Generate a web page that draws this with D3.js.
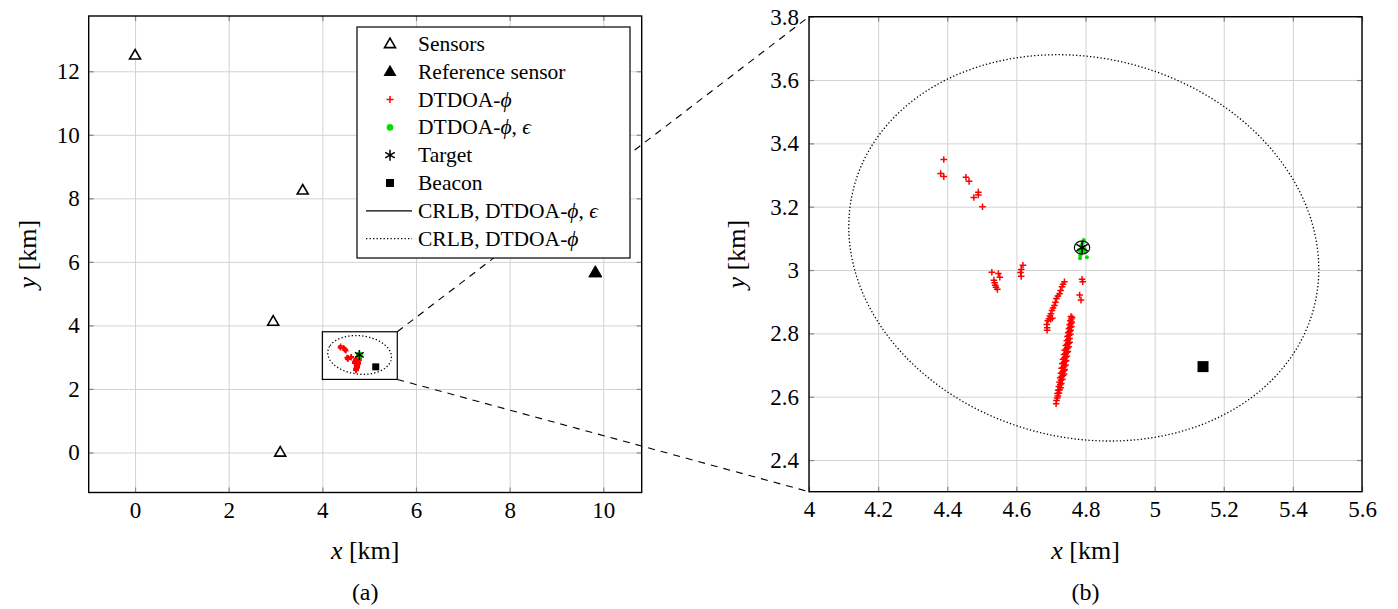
<!DOCTYPE html>
<html>
<head>
<meta charset="utf-8">
<script src="https://cdn.jsdelivr.net/npm/d3@7"></script>
<style>
  body { margin: 0; background: #fff; }
  svg text { font-family: "Liberation Serif", "Times New Roman", "DejaVu Serif", serif; fill: #000; }
</style>
</head>
<body>
<script>
var W = 1398, H = 609;

// positions in km
var sensors = [[0, 12.5], [3.58, 8.25], [2.95, 4.12], [3.1, 0]];
var refSensor = [[9.83, 5.66]];
var target = [[4.79, 3.071]];
var beacon = [[5.14, 2.695]];

var dtdoaPhi = [
	// upper left group
	[4.390,3.349],[4.381,3.305],[4.390,3.295],[4.454,3.293],[4.463,3.280],[4.477,3.229],
	[4.490,3.246],[4.490,3.237],[4.502,3.200],
	// around 4.54
	[4.529,2.993],[4.548,2.989],[4.552,2.977],[4.535,2.968],[4.537,2.960],[4.539,2.952],
	[4.541,2.946],[4.545,2.939],
	// around 4.62
	[4.619,3.015],[4.614,3.002],[4.612,2.992],[4.614,2.980],
	// below target
	[4.790,2.971],[4.792,2.963],[4.783,2.921],[4.787,2.905],
	// diagonal streak
	[4.739,2.963],[4.735,2.955],[4.732,2.947],[4.728,2.935],[4.725,2.925],[4.720,2.918],
	[4.716,2.910],[4.713,2.898],[4.710,2.888],[4.706,2.880],[4.703,2.872],[4.700,2.862],
	[4.697,2.855],[4.694,2.846],[4.691,2.840],[4.699,2.845],[4.704,2.848],[4.688,2.828],
	[4.689,2.818],[4.689,2.810],
	// long streak
	[4.715,2.578],[4.716,2.588],[4.718,2.596],[4.720,2.602],[4.719,2.610],[4.723,2.612],
	[4.721,2.620],[4.725,2.622],[4.728,2.628],[4.723,2.632],[4.727,2.638],[4.730,2.642],
	[4.725,2.646],[4.729,2.652],[4.733,2.655],[4.727,2.660],[4.731,2.664],[4.735,2.667],
	[4.738,2.672],[4.729,2.674],[4.733,2.678],[4.737,2.682],[4.740,2.686],[4.731,2.690],
	[4.735,2.693],[4.739,2.697],[4.742,2.700],[4.733,2.704],[4.737,2.708],[4.741,2.711],
	[4.744,2.714],[4.735,2.718],[4.739,2.722],[4.743,2.725],[4.746,2.728],[4.738,2.733],
	[4.742,2.736],[4.746,2.740],[4.749,2.743],[4.740,2.747],[4.744,2.751],[4.748,2.754],
	[4.751,2.758],[4.743,2.762],[4.747,2.766],[4.751,2.769],[4.754,2.772],[4.746,2.777],
	[4.750,2.781],[4.754,2.784],[4.748,2.790],[4.752,2.794],[4.756,2.797],[4.750,2.802],
	[4.754,2.806],[4.757,2.810],[4.752,2.815],[4.756,2.819],[4.759,2.822],[4.754,2.827],
	[4.758,2.831],[4.760,2.836],[4.756,2.840],[4.759,2.845],[4.761,2.850],[4.758,2.853]
];

var dtdoaPhiEps = [
	[4.790,3.070],[4.786,3.066],[4.794,3.074],[4.788,3.079],[4.793,3.062],[4.781,3.063],
	[4.797,3.068],[4.787,3.055],[4.785,3.046],[4.784,3.037],[4.804,3.040],[4.795,3.095],
	[4.792,3.085],[4.799,3.058]
];

// CRLB ellipses: centre and covariance [sxx, sxy, syy]
var crlbPhiCenter = [4.795, 3.07];
var crlbPhiCov = [0.4624, -0.0458, 0.3721];
var crlbEpsCenter = [4.79, 3.071];
var crlbEpsCov = [0.00042, 0, 0.00048];

var xTicksA = [0, 2, 4, 6, 8, 10];
var yTicksA = [0, 2, 4, 6, 8, 10, 12];
var xTicksB = [4, 4.2, 4.4, 4.6, 4.8, 5, 5.2, 5.4, 5.6];
var yTicksB = [2.4, 2.6, 2.8, 3, 3.2, 3.4, 3.6, 3.8];

var legendLabels = [
	[['Sensors', 0]],
	[['Reference sensor', 0]],
	[['DTDOA-', 0], ['\u03D5', 1]],
	[['DTDOA-', 0], ['\u03D5', 1], [', ', 0], ['\u03F5', 1]],
	[['Target', 0]],
	[['Beacon', 0]],
	[['CRLB, DTDOA-', 0], ['\u03D5', 1], [', ', 0], ['\u03F5', 1]],
	[['CRLB, DTDOA-', 0], ['\u03D5', 1]]
];
var legendKinds = ['tri', 'trifill', 'plus', 'dot', 'star', 'square', 'solid', 'dotted'];

var serif = '"Liberation Serif", "Times New Roman", "DejaVu Serif", serif';

var svg = d3.select('body').append('svg')
	.attr('width', W).attr('height', H)
	.attr('font-family', serif);
svg.append('rect').attr('width', W).attr('height', H).attr('fill', '#fff');

function ellipsePoints(c, cov) {
	var a = cov[0], b = cov[1], d = cov[2];
	var tr = (a + d) / 2, det = a * d - b * b;
	var disc = Math.sqrt(tr * tr - det);
	var l1 = tr + disc, l2 = tr - disc;
	var th = Math.abs(b) < 1e-12 ? 0 : Math.atan2(l1 - a, b);
	var pts = [];
	for (var i = 0; i <= 240; i++) {
		var t = i / 240 * 2 * Math.PI;
		var u = Math.sqrt(l1) * Math.cos(t), v = Math.sqrt(l2) * Math.sin(t);
		pts.push([c[0] + u * Math.cos(th) - v * Math.sin(th), c[1] + u * Math.sin(th) + v * Math.cos(th)]);
	}
	return pts;
}

function triPath(s) {
	var h = s * 0.866;
	return 'M0,' + (-h * 0.62) + 'L' + (s / 2) + ',' + (h * 0.38) + 'L' + (-s / 2) + ',' + (h * 0.38) + 'Z';
}
function plusPath(r) {
	return 'M' + (-r) + ',0H' + r + 'M0,' + (-r) + 'V' + r;
}
function starPath(r) {
	var p = '';
	[90, 30, -30].forEach(function(a) {
		var dx = r * Math.cos(a * Math.PI / 180), dy = r * Math.sin(a * Math.PI / 180);
		p += 'M' + (-dx) + ',' + (-dy) + 'L' + dx + ',' + dy;
	});
	return p;
}

function drawPanel(cfg) {
	var x = d3.scaleLinear().domain(cfg.xd).range([cfg.x0, cfg.x1]);
	var y = d3.scaleLinear().domain(cfg.yd).range([cfg.y1, cfg.y0]);
	var g = svg.append('g');
	var w = cfg.x1 - cfg.x0, h = cfg.y1 - cfg.y0;

	// grid
	g.append('g').attr('transform', 'translate(0,' + cfg.y1 + ')')
		.call(d3.axisBottom(x).tickValues(cfg.xt).tickSize(-h).tickFormat(''))
		.call(function(s) { s.select('.domain').remove(); s.selectAll('line').attr('stroke', '#d2d2d2').attr('stroke-width', 1); });
	g.append('g').attr('transform', 'translate(' + cfg.x0 + ',0)')
		.call(d3.axisLeft(y).tickValues(cfg.yt).tickSize(-w).tickFormat(''))
		.call(function(s) { s.select('.domain').remove(); s.selectAll('line').attr('stroke', '#d2d2d2').attr('stroke-width', 1); });

	var line = d3.line().x(function(d) { return x(d[0]); }).y(function(d) { return y(d[1]); });

	g.append('path').datum(ellipsePoints(crlbPhiCenter, crlbPhiCov))
		.attr('d', line).attr('fill', 'none').attr('stroke', '#000')
		.attr('stroke-width', 1.3).attr('stroke-dasharray', '1.3,2.2');

	g.selectAll('.red').data(dtdoaPhi).enter().append('path')
		.attr('transform', function(d) { return 'translate(' + x(d[0]) + ',' + y(d[1]) + ')'; })
		.attr('d', plusPath(cfg.plus)).attr('stroke', '#ff0000').attr('stroke-width', 1.5);

	g.selectAll('.grn').data(dtdoaPhiEps).enter().append('circle')
		.attr('cx', function(d) { return x(d[0]); }).attr('cy', function(d) { return y(d[1]); })
		.attr('r', cfg.dot).attr('fill', '#00e000');

	g.append('path').datum(ellipsePoints(crlbEpsCenter, crlbEpsCov))
		.attr('d', line).attr('fill', 'none').attr('stroke', '#000').attr('stroke-width', 1.2);

	g.selectAll('.tgt').data(target).enter().append('path')
		.attr('transform', function(d) { return 'translate(' + x(d[0]) + ',' + y(d[1]) + ')'; })
		.attr('d', starPath(cfg.star)).attr('stroke', '#000').attr('stroke-width', 1.5);

	g.selectAll('.bcn').data(beacon).enter().append('rect')
		.attr('x', function(d) { return x(d[0]) - cfg.sq / 2; })
		.attr('y', function(d) { return y(d[1]) - cfg.sq / 2; })
		.attr('width', cfg.sq).attr('height', cfg.sq).attr('fill', '#000');

	if (cfg.sensors) {
		g.selectAll('.sen').data(sensors).enter().append('path')
			.attr('transform', function(d) { return 'translate(' + x(d[0]) + ',' + y(d[1]) + ')'; })
			.attr('d', triPath(11)).attr('fill', '#fff').attr('stroke', '#000').attr('stroke-width', 1.6);
		g.selectAll('.ref').data(refSensor).enter().append('path')
			.attr('transform', function(d) { return 'translate(' + x(d[0]) + ',' + y(d[1]) + ')'; })
			.attr('d', triPath(13)).attr('fill', '#000').attr('stroke', '#000').attr('stroke-width', 1);
	}

	// ticks, inside on every side
	function tickStyle(s) {
		s.attr('font-family', serif).attr('font-size', 23);
		s.select('.domain').remove();
		s.selectAll('line').attr('stroke', '#888').attr('stroke-width', 1.2);
		s.selectAll('text').attr('fill', '#000');
	}
	g.append('g').attr('transform', 'translate(0,' + cfg.y1 + ')')
		.call(d3.axisBottom(x).tickValues(cfg.xt).tickSizeInner(-5).tickSizeOuter(0).tickPadding(9).tickFormat(cfg.fmt))
		.call(tickStyle);
	g.append('g').attr('transform', 'translate(0,' + cfg.y0 + ')')
		.call(d3.axisTop(x).tickValues(cfg.xt).tickSizeInner(-5).tickSizeOuter(0).tickFormat(''))
		.call(tickStyle);
	g.append('g').attr('transform', 'translate(' + cfg.x0 + ',0)')
		.call(d3.axisLeft(y).tickValues(cfg.yt).tickSizeInner(-5).tickSizeOuter(0).tickPadding(cfg.ypad).tickFormat(cfg.fmt))
		.call(tickStyle);
	g.append('g').attr('transform', 'translate(' + cfg.x1 + ',0)')
		.call(d3.axisRight(y).tickValues(cfg.yt).tickSizeInner(-5).tickSizeOuter(0).tickFormat(''))
		.call(tickStyle);

	g.append('rect').attr('x', cfg.x0).attr('y', cfg.y0).attr('width', w).attr('height', h)
		.attr('fill', 'none').attr('stroke', '#000').attr('stroke-width', 1.4);

	var cx = (cfg.x0 + cfg.x1) / 2;
	var xl = g.append('text').attr('x', cx).attr('y', 559).attr('text-anchor', 'middle').style('font-size', '26px');
	xl.append('tspan').style('font-style', 'italic').text('x');
	xl.append('tspan').text(' [km]');
	var yl = g.append('text').attr('transform', 'translate(' + cfg.ylx + ',' + ((cfg.y0 + cfg.y1) / 2) + ') rotate(-90)')
		.attr('text-anchor', 'middle').style('font-size', '26px');
	yl.append('tspan').style('font-style', 'italic').text('y');
	yl.append('tspan').text(' [km]');
	g.append('text').attr('x', cx).attr('y', 600).attr('text-anchor', 'middle').style('font-size', '24px').text(cfg.caption);

	return { x: x, y: y };
}

var fmtB = function(d) { return String(+d.toFixed(1)); };

var pA = drawPanel({ x0: 88.7, x1: 641.7, y0: 16, y1: 492.5, xd: [-0.99, 10.82], yd: [-1.26, 13.74],
	xt: xTicksA, yt: yTicksA, fmt: d3.format('d'), ypad: 9, ylx: 36, caption: '(a)',
	plus: 2.6, dot: 2.6, star: 5, sq: 7, sensors: true });

var xdB = [4, 5.6], ydB = [2.3, 3.8];
var pB = drawPanel({ x0: 809, x1: 1362, y0: 16.7, y1: 491.7, xd: xdB, yd: ydB,
	xt: xTicksB, yt: yTicksB, fmt: fmtB, ypad: 10, ylx: 745, caption: '(b)',
	plus: 3.3, dot: 2, star: 6.5, sq: 11, sensors: false });

// zoom box and connector lines
svg.append('rect')
	.attr('x', pA.x(xdB[0])).attr('y', pA.y(ydB[1]))
	.attr('width', pA.x(xdB[1]) - pA.x(xdB[0])).attr('height', pA.y(ydB[0]) - pA.y(ydB[1]))
	.attr('fill', 'none').attr('stroke', '#000').attr('stroke-width', 1.2);
[[ydB[1]], [ydB[0]]].forEach(function(v) {
	svg.append('line')
		.attr('x1', pA.x(xdB[1])).attr('y1', pA.y(v[0]))
		.attr('x2', pB.x(xdB[0])).attr('y2', pB.y(v[0]))
		.attr('stroke', '#000').attr('stroke-width', 1.1).attr('stroke-dasharray', '7,6');
});

// legend
var lg = svg.append('g');
lg.append('rect').attr('x', 357).attr('y', 27).attr('width', 273).attr('height', 231)
	.attr('fill', '#fff').attr('stroke', '#000').attr('stroke-width', 1.2);
legendKinds.forEach(function(k, i) {
	var cy = 44 + i * 27.8, sx = 390;
	var m = lg.append('g').attr('transform', 'translate(' + sx + ',' + cy + ')');
	if (k === 'tri') m.append('path').attr('d', triPath(11)).attr('fill', '#fff').attr('stroke', '#000').attr('stroke-width', 1.6);
	if (k === 'trifill') m.append('path').attr('d', triPath(13)).attr('fill', '#000');
	if (k === 'plus') m.append('path').attr('d', plusPath(3.5)).attr('stroke', '#ff0000').attr('stroke-width', 1.5);
	if (k === 'dot') m.append('circle').attr('r', 3.3).attr('fill', '#00e000');
	if (k === 'star') m.append('path').attr('d', starPath(5.5)).attr('stroke', '#000').attr('stroke-width', 1.5);
	if (k === 'square') m.append('rect').attr('x', -4).attr('y', -4).attr('width', 8).attr('height', 8).attr('fill', '#000');
	if (k === 'solid') m.append('line').attr('x1', -24).attr('x2', 22).attr('stroke', '#000').attr('stroke-width', 1.3);
	if (k === 'dotted') m.append('line').attr('x1', -24).attr('x2', 22).attr('stroke', '#000').attr('stroke-width', 1.3).attr('stroke-dasharray', '1.3,2.2');
	var t = lg.append('text').attr('x', 418).attr('y', cy + 7).style('font-size', '21.5px');
	legendLabels[i].forEach(function(p) {
		t.append('tspan').style('font-style', p[1] ? 'italic' : 'normal').text(p[0]);
	});
});
</script>
</body>
</html>
